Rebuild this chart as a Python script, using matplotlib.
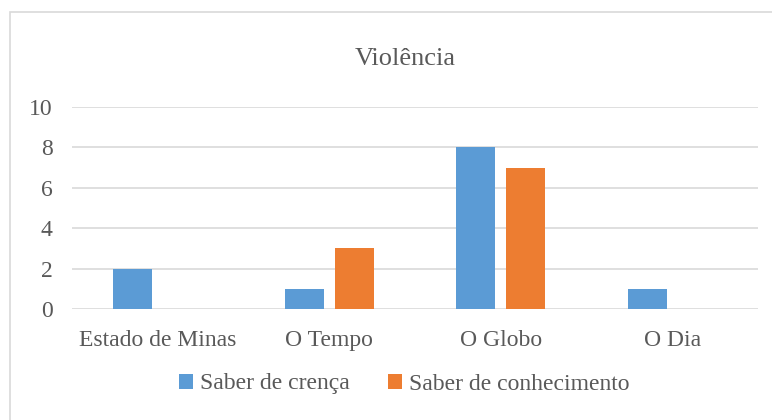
import numpy as np
import matplotlib
matplotlib.use("Agg")
import matplotlib.pyplot as plt
from matplotlib.patches import Rectangle

plt.rcParams['font.family'] = ['Liberation Serif', 'DejaVu Serif']

categorias = ["Estado de Minas", "O Tempo", "O Globo", "O Dia"]
crenca = [2, 1, 8, 1]
conhecimento = [0, 3, 7, 0]
series_nomes = ["Saber de crença", "Saber de conhecimento"]
cores = ["#5B9BD5", "#ED7D31"]
texto_cor = "#595959"
grade_cor = "#D9D9D9"

fig = plt.figure(figsize=(7.72, 4.2), dpi=100)
# moldura do grafico (estilo Excel)
fig.patches.append(Rectangle((10 / 772, -0.1), 1.2, 1.1 - 12 / 420,
                             transform=fig.transFigure, fill=False,
                             edgecolor="#D9D9D9", linewidth=1.2))

ax = fig.add_axes([72 / 772, 1 - 309 / 420, (758 - 72) / 772, (309 - 107) / 420])

x = np.arange(len(categorias))
w = 0.227
off = 0.147
ax.bar(x - off, crenca, w, color=cores[0], label=series_nomes[0], zorder=3)
ax.bar(x + off, conhecimento, w, color=cores[1], label=series_nomes[1], zorder=3)

ax.set_xlim(-0.5, len(categorias) - 0.5)
ax.set_ylim(0, 10)
ax.set_yticks(range(0, 11, 2))
ax.set_xticks(x)
ax.set_xticklabels(categorias)
ax.grid(axis="y", color=grade_cor, linewidth=1.2, zorder=0)
for s in ax.spines.values():
    s.set_visible(False)
ax.tick_params(length=0, labelsize=17, labelcolor=texto_cor)
ax.tick_params(axis="x", pad=15)
ax.tick_params(axis="y", pad=14)

fig.text(405 / 772, 1 - 59 / 420, "Violência", ha="center", va="center",
         fontsize=19, color=texto_cor)

leg = fig.legend(loc="center", bbox_to_anchor=(404 / 772, 1 - 384 / 420), ncol=2,
                 frameon=False, fontsize=17, handlelength=0.6, handleheight=0.6,
                 handletextpad=0.3, columnspacing=1.6)
for t in leg.get_texts():
    t.set_color(texto_cor)

fig.savefig("out.png", dpi=100)
